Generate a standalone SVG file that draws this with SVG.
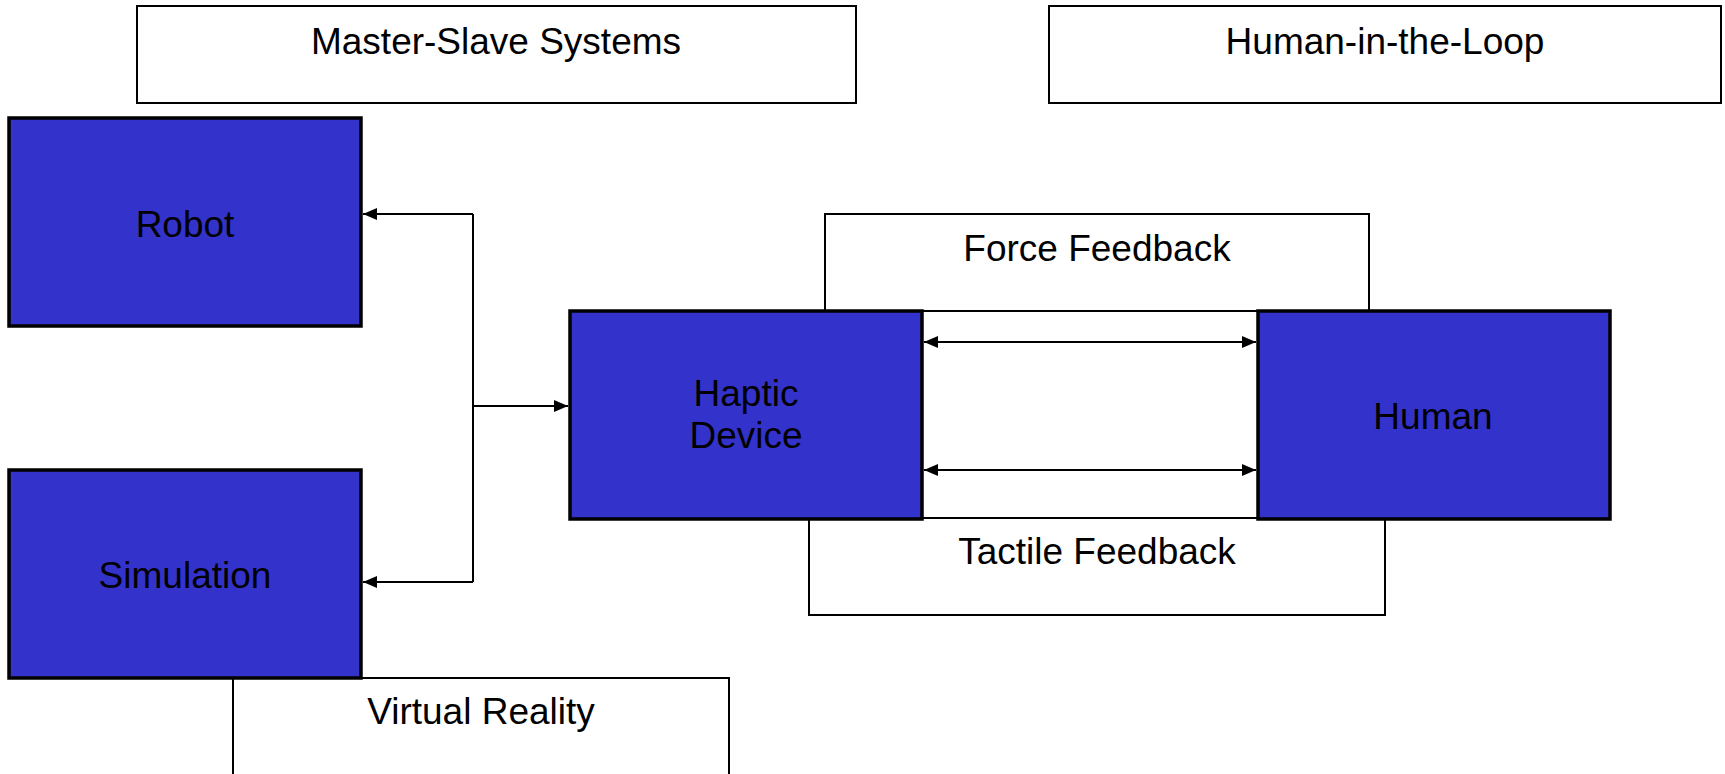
<svg xmlns="http://www.w3.org/2000/svg" width="1725" height="774" viewBox="0 0 1725 774">
<style>
.lbl{fill:#fff;stroke:#000;stroke-width:2}
.blk{fill:#3333CC;stroke:#000;stroke-width:3.5}
text{font-family:"Liberation Sans",Arial,sans-serif;font-size:37px;fill:#000;text-anchor:middle}
.con{fill:none;stroke:#000;stroke-width:2}
</style>
<defs>
<marker id="ah" viewBox="0 0 14 12" refX="14" refY="6" markerWidth="14" markerHeight="12" markerUnits="userSpaceOnUse" orient="auto-start-reverse">
<path d="M0,0 L14,6 L0,12 z" fill="#000"/>
</marker>
</defs>
<rect width="1725" height="774" fill="#fff"/>
<g id="master-slave"><rect class="lbl" x="137" y="6" width="719" height="97"/><text x="496" y="54">Master-Slave Systems</text></g>
<g id="human-in-the-loop"><rect class="lbl" x="1049" y="6" width="672" height="97"/><text x="1385" y="54">Human-in-the-Loop</text></g>
<g id="force-feedback"><rect class="lbl" x="825" y="214" width="544" height="97"/><text x="1097" y="261">Force Feedback</text></g>
<g id="tactile-feedback"><rect class="lbl" x="809" y="518" width="576" height="97"/><text x="1097" y="564">Tactile Feedback</text></g>
<g id="virtual-reality"><rect class="lbl" x="233" y="678" width="496" height="130"/><text x="481" y="724">Virtual Reality</text></g>
<g id="robot"><rect class="blk" x="9" y="118" width="352" height="208"/><text x="185" y="237">Robot</text></g>
<g id="simulation"><rect class="blk" x="9" y="470" width="352" height="208"/><text x="185" y="588">Simulation</text></g>
<g id="haptic-device"><rect class="blk" x="570" y="311" width="352" height="208"/><text x="746" y="406">Haptic</text><text x="746" y="448">Device</text></g>
<g id="human"><rect class="blk" x="1258" y="311" width="352" height="208"/><text x="1433" y="429">Human</text></g>
<g id="connectors">
<path class="con" d="M473,214 L473,582"/>
<path class="con" d="M473,214 L363,214" marker-end="url(#ah)"/>
<path class="con" d="M473,582 L363,582" marker-end="url(#ah)"/>
<path class="con" d="M473,406 L568,406" marker-end="url(#ah)"/>
<path class="con" d="M924,342 L1256,342" marker-start="url(#ah)" marker-end="url(#ah)"/>
<path class="con" d="M924,470 L1256,470" marker-start="url(#ah)" marker-end="url(#ah)"/>
</g>
</svg>
